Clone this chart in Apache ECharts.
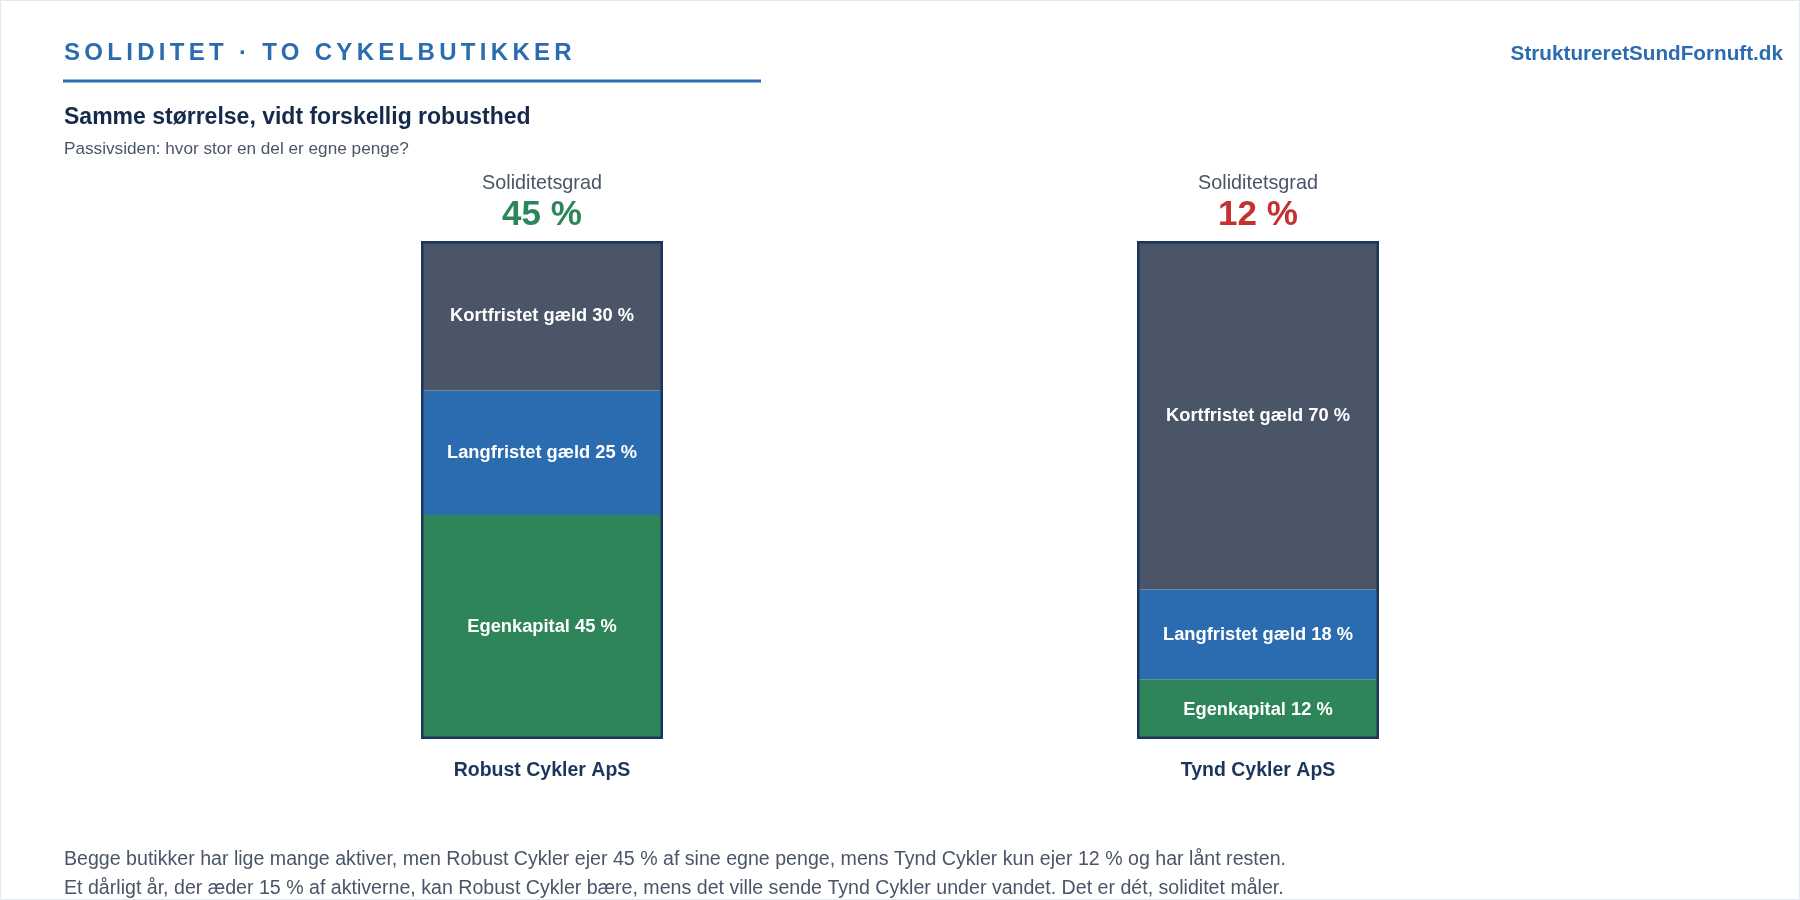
<!DOCTYPE html>
<html>
<head>
<meta charset="utf-8">
<script src="https://cdn.jsdelivr.net/npm/echarts@6/dist/echarts.min.js"></script>
<style>
  html, body { margin: 0; padding: 0; background: #fff; }
  #wrap { position: relative; width: 1800px; height: 900px; }
  #chart { position: absolute; left: 0; top: 0; width: 1800px; height: 900px; }
  #title {
    position: absolute; left: 64px; top: 40px; z-index: 2;
    font: 700 24px "Liberation Sans", Arial, sans-serif;
    line-height: 24px; letter-spacing: 4.3px; color: #2b6cb0;
    white-space: nowrap;
  }
</style>
</head>
<body>
<div id="wrap">
  <div id="chart"></div>
  <div id="title">SOLIDITET · TO CYKELBUTIKKER</div>
</div>
<script>
// data
const companies = ['Robust Cykler ApS', 'Tynd Cykler ApS']
const egenkapital = [45, 12]
const langfristet = [25, 18]
const kortfristet = [30, 70]
const totals = [100, 100]

const FONT = '"Liberation Sans", Arial, sans-serif'
const GREEN = '#2f855a'
const BLUE = '#2b6cb0'
const SLATE = '#4a5568'
const RED = '#c53030'
const NAVY = '#1a365d'

const chart = echarts.init(document.getElementById('chart'))

const segLabel = {
  show: true,
  position: 'inside',
  offset: [0, 0.5],
  formatter: function (p) {
    return p.seriesName + ' ' + p.value + ' %'
  },
  color: '#fff',
  fontFamily: FONT,
  fontWeight: 'bold',
  fontSize: 18.3
}

chart.setOption({
  animation: false,
  backgroundColor: '#fff',
  grid: {
    left: 184,
    right: 184,
    top: 241,
    bottom: 161
  },
  xAxis: {
    type: 'category',
    data: companies,
    axisLine: { show: false },
    axisTick: { show: false },
    axisLabel: {
      margin: 22,
      color: NAVY,
      fontFamily: FONT,
      fontWeight: 'bold',
      fontSize: 19.5,
      lineHeight: 20
    }
  },
  yAxis: {
    type: 'value',
    min: 0,
    max: 100,
    show: false
  },
  graphic: [
    {
      type: 'rect',
      silent: true,
      shape: { x: 0.5, y: 0.5, width: 1799, height: 899 },
      style: { fill: 'none', stroke: '#e2e8f0', lineWidth: 1 }
    },
    {
      type: 'rect',
      silent: true,
      shape: { x: 63, y: 79.5, width: 698, height: 3 },
      style: { fill: BLUE }
    },
    {
      type: 'text',
      x: 1783,
      y: 54,
      style: {
        text: 'StruktureretSundFornuft.dk',
        align: 'right',
        verticalAlign: 'middle',
        font: 'bold 20.7px ' + FONT,
        fill: BLUE
      }
    },
    {
      type: 'text',
      x: 64,
      y: 118,
      style: {
        text: 'Samme størrelse, vidt forskellig robusthed',
        verticalAlign: 'middle',
        font: 'bold 23px ' + FONT,
        fill: '#152a4a'
      }
    },
    {
      type: 'text',
      x: 64,
      y: 149,
      style: {
        text: 'Passivsiden: hvor stor en del er egne penge?',
        verticalAlign: 'middle',
        font: '17.2px ' + FONT,
        fill: SLATE
      }
    },
    {
      type: 'text',
      x: 64,
      y: 845,
      style: {
        text: 'Begge butikker har lige mange aktiver, men Robust Cykler ejer 45 % af sine egne penge, mens Tynd Cykler kun ejer 12 % og har lånt resten.\n' +
          'Et dårligt år, der æder 15 % af aktiverne, kan Robust Cykler bære, mens det ville sende Tynd Cykler under vandet. Det er dét, soliditet måler.',
        verticalAlign: 'top',
        font: '19.6px ' + FONT,
        lineHeight: 29,
        fill: SLATE
      }
    }
  ],
  series: [
    {
      name: 'Egenkapital',
      type: 'bar',
      stack: 'passiv',
      barWidth: 242,
      itemStyle: { color: GREEN },
      label: segLabel,
      data: egenkapital
    },
    {
      name: 'Langfristet gæld',
      type: 'bar',
      stack: 'passiv',
      barWidth: 242,
      itemStyle: { color: BLUE },
      label: segLabel,
      data: langfristet
    },
    {
      name: 'Kortfristet gæld',
      type: 'bar',
      stack: 'passiv',
      barWidth: 242,
      itemStyle: { color: SLATE },
      label: segLabel,
      data: kortfristet
    },
    {
      name: 'Soliditetsgrad',
      type: 'bar',
      barWidth: 242,
      barGap: '-100%',
      silent: true,
      z: 5,
      itemStyle: {
        color: 'rgba(0,0,0,0)',
        borderColor: NAVY,
        borderWidth: 2.5
      },
      label: {
        show: true,
        position: 'top',
        distance: 9,
        formatter: function (p) {
          const v = egenkapital[p.dataIndex]
          return '{a|Soliditetsgrad}\n{' + (v >= 30 ? 'g' : 'r') + '|' + v + ' %}'
        },
        rich: {
          a: { fontFamily: FONT, fontSize: 19.8, color: SLATE, lineHeight: 28, align: 'center' },
          g: { fontFamily: FONT, fontSize: 35, fontWeight: 'bold', color: GREEN, lineHeight: 34, align: 'center' },
          r: { fontFamily: FONT, fontSize: 35, fontWeight: 'bold', color: RED, lineHeight: 34, align: 'center' }
        }
      },
      data: totals
    }
  ]
})
</script>
</body>
</html>
